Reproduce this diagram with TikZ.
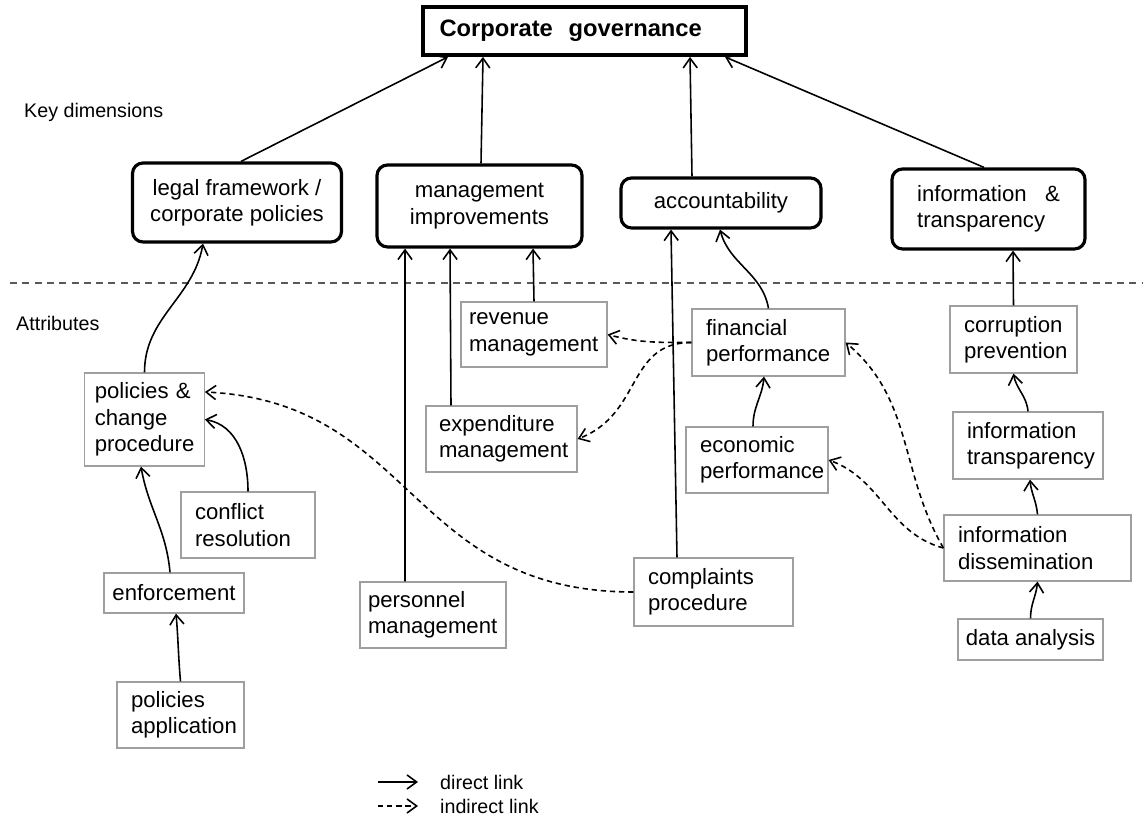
\documentclass[tikz,border=0pt]{standalone}
\usepackage{fontspec}
\setmainfont{Liberation Sans}
\usetikzlibrary{arrows.meta}
\hyphenpenalty=10000

\begin{document}
\begin{tikzpicture}[
    every node/.style={font=\fontsize{12.6}{15}\selectfont},
    dim/.style={draw, line width=1.8pt, rounded corners=6pt, align=center, inner sep=2pt},
    attr/.style={draw=gray!75, line width=0.7pt, align=left, inner xsep=0.28cm, inner ysep=2pt},
    direct/.style={line width=0.9pt, -{Straight Barb[length=5.5pt, width=8pt]}},
    indirect/.style={direct, dash pattern=on 3pt off 2.2pt},
    side/.style={anchor=west, font=\fontsize{11.2}{13}\selectfont}]
  \useasboundingbox (0,0) rectangle (22.86,16.32);
  \node[draw, line width=2.2pt, text width=5.8cm, inner xsep=0.33cm, minimum height=0.96cm, align=left, font=\fontsize{13.5}{16}\selectfont\bfseries] (cg) at (11.69,15.70) {Corporate\ \ governance};
  \node[dim, minimum width=4.18cm, minimum height=1.58cm] (legal) at (4.74,12.27) {legal framework /\\corporate policies};
  \node[dim, minimum width=4.1cm, minimum height=1.64cm] (mgmt) at (9.59,12.20) {management\\improvements};
  \node[dim, minimum width=4.0cm, minimum height=1.0cm] (acc) at (14.42,12.26) {accountability};
  \node[dim, minimum width=3.86cm, minimum height=1.6cm, align=left] (info) at (19.77,12.14) {information\ \ \ \&\\transparency};
  \node[side] (kd) at (0.36,14.08) {Key dimensions};
  \node[side] (atl) at (0.2,9.86) {Attributes};
  \draw[gray!70!black, line width=0.7pt, dash pattern=on 4pt off 3pt] (0.2,10.66) -- (22.86,10.66);
  \node[attr, text width=1.99cm, inner xsep=0.2cm, minimum height=1.86cm] (pol) at (2.89,7.93) {policies \&\\change\\procedure};
  \node[attr, text width=2.12cm, minimum height=1.32cm] (conf) at (4.96,5.82) {conflict\\resolution};
  \node[attr, inner xsep=0.1cm, minimum width=2.8cm, minimum height=0.8cm] (enf) at (3.48,4.46) {enforcement};
  \node[attr, text width=1.98cm, minimum height=1.32cm] (papp) at (3.61,2.02) {policies\\application};
  \node[attr, text width=2.6cm, inner xsep=0.16cm, minimum height=1.32cm] (pers) at (8.66,4.02) {personnel\\management};
  \node[attr, text width=2.5cm, inner xsep=0.26cm, minimum height=1.32cm] (exp) at (10.03,7.54) {expenditure\\management};
  \node[attr, text width=2.6cm, inner xsep=0.16cm, minimum height=1.3cm] (rev) at (10.68,9.63) {revenue\\management};
  \node[attr, text width=2.62cm, minimum height=1.36cm] (comp) at (14.27,4.48) {complaints\\procedure};
  \node[attr, text width=2.50cm, minimum height=1.34cm] (fin) at (15.37,9.47) {financial\\performance};
  \node[attr, text width=2.28cm, minimum height=1.32cm] (eco) at (15.14,7.12) {economic\\performance};
  \node[attr, text width=1.98cm, minimum height=1.34cm] (corr) at (20.27,9.53) {corruption\\prevention};
  \node[attr, text width=2.44cm, minimum height=1.34cm] (itr) at (20.56,7.41) {information\\transparency};
  \node[attr, text width=3.18cm, minimum height=1.32cm] (diss) at (20.75,5.36) {information\\dissemination};
  \node[attr, inner xsep=0.1cm, minimum width=2.9cm, minimum height=0.82cm] (data) at (20.61,3.53) {data analysis};
  \draw[direct] ([xshift=0.08cm]legal.north) -- ([xshift=-2.73cm]cg.south); \draw[direct] ([xshift=0.03cm]mgmt.north) -- ([xshift=-2.03cm]cg.south);
  \draw[direct] ([xshift=-0.58cm]acc.north) -- ([xshift=2.11cm]cg.south); \draw[direct] ([xshift=-0.09cm]info.north) -- ([xshift=2.81cm]cg.south);
  \draw[direct] (pol.north) to[out=90,in=-100] ([xshift=-0.68cm]legal.south);
  \draw[direct] (conf.north) to[out=90,in=-10] (pol.east);
  \draw[direct] ([xshift=-0.08cm]enf.north) to[out=95,in=-80] ([xshift=-0.07cm]pol.south);
  \draw[direct] (papp.north) to[out=95,in=-85] ([xshift=0.04cm]enf.south);
  \draw[direct] ([xshift=-0.56cm]pers.north) -- ([xshift=-1.49cm]mgmt.south); \draw[direct] ([xshift=-1.01cm]exp.north) -- ([xshift=-0.59cm]mgmt.south);
  \draw[direct] (rev.north) -- ([xshift=1.07cm]mgmt.south);
  \draw[direct] ([xshift=-0.73cm]comp.north) -- ([xshift=-1.0cm]acc.south);
  \draw[direct] (fin.north) to[out=100,in=-75] ([xshift=-0.02cm]acc.south);
  \draw[direct] ([xshift=-0.08cm]eco.north) to[out=90,in=-95] ([xshift=-0.09cm]fin.south);
  \draw[direct] (corr.north) -- ([xshift=0.49cm]info.south); \draw[direct] (itr.north) to[out=95,in=-80] (corr.south);
  \draw[direct] (diss.north) to[out=95,in=-85] ([xshift=0.04cm]itr.south); \draw[direct] (data.north) to[out=90,in=-95] (diss.south);
  \draw[indirect] (fin.west) to[out=180,in=-15] (rev.east);
  \draw[indirect] (fin.west) .. controls +(-1.3,0) and +(1.3,0.5) .. (exp.east);
  \draw[indirect] (diss.west) to[out=165,in=-20] (eco.east);
  \draw[indirect] (diss.west) to[out=120,in=-40] (fin.east);
  \draw[indirect] (comp.west) .. controls +(-4.5,0) and +(4.2,-0.2) .. ([yshift=0.55cm]pol.east);
  \node[side] (ldir) at (8.68,0.68) {direct link};
  \node[side] (lind) at (8.68,0.2) {indirect link};
  \draw[direct] ([xshift=-1.12cm]ldir.west) -- ([xshift=-0.32cm]ldir.west);
  \draw[indirect] ([xshift=-1.12cm]lind.west) -- ([xshift=-0.32cm]lind.west);
\end{tikzpicture}
\end{document}
